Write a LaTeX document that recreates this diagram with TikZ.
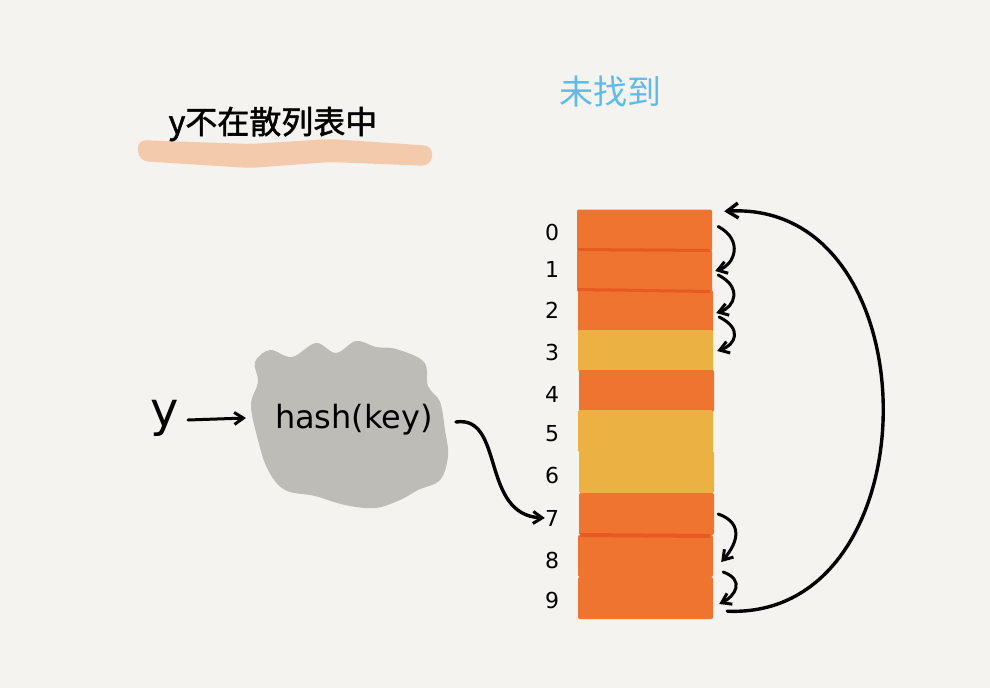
\documentclass[tikz,border=0pt]{standalone}
\usepackage{fontspec}
\newfontfamily\cjk{Noto Sans CJK SC}
\newfontfamily\cjkb[FakeBold=1.6]{Noto Sans CJK SC}
\newfontfamily\hand{DejaVu Sans}
\usetikzlibrary{arrows.meta,calc}
\definecolor{bg}{HTML}{F4F3EF}
\definecolor{orng}{HTML}{EE7430}
\definecolor{yllw}{HTML}{EBB142}
\definecolor{sep}{HTML}{E85A22}
\definecolor{cloudgray}{HTML}{BEBCB6}
\definecolor{peach}{HTML}{F3CBAC}
\definecolor{skyblue}{HTML}{5DBBEE}
\tikzset{
  cell/.style={minimum width=135pt, minimum height=42pt, inner sep=0pt, rounded corners=2pt},
  idx/.style={font=\hand\fontsize{22}{22}\selectfont, inner sep=0pt},
  arr/.style={line width=3pt, line cap=round, -{Straight Barb[length=9pt,width=12pt,line width=3pt]}},
  bigarr/.style={line width=3.4pt, line cap=round, -{Straight Barb[length=11pt,width=15pt,line width=3.4pt]}}
}
\begin{document}
\begin{tikzpicture}[x=1pt,y=-1pt]
\fill[bg] (0,0) rectangle (990,688);
\useasboundingbox (0,0) rectangle (990,688);
% highlighter
\fill[peach, rounded corners=9pt] (137,140) -- (250,144) -- (330,139) -- (433,146) -- (431,166) -- (330,162) -- (250,168) -- (139,161) -- cycle;
\node[font=\cjkb\fontsize{32}{32}\selectfont, inner sep=0pt] (title) at (273,124) {y不在散列表中};
\node[font=\cjk\fontsize{34}{34}\selectfont, text=skyblue, inner sep=0pt] (found) at (610,92) {未找到};
% cloud
\fill[cloudgray] plot[smooth cycle, tension=0.6] coordinates {
 (255,362) (270,350) (292,357) (316,343) (336,353) (356,341) (376,347) (396,349) (424,362) (428,386) (440,402) (445,430) (448,456) (440,480) (418,490) (400,500) (375,508) (345,505) (315,496) (285,490) (268,470) (258,440) (251,405) (258,382)};
\node[font=\hand\fontsize{32}{32}\selectfont, inner sep=0pt] (hash) at (354,420) {hash(key)};
\node[font=\hand\fontsize{48}{48}\selectfont, inner sep=0pt] (y) at (165,418) {y};
\coordinate (yend) at (246,418);
\draw[arr] (188,420) -- (yend);
% cells
\node[cell, fill=orng] (r0) at (644.5,230.5) {};
\node[cell, fill=orng] (r1) at (644.5,271) {};
\node[cell, fill=orng] (r2) at (645.5,311) {};
\node[cell, fill=yllw] (r3) at (645.5,351) {};
\node[cell, fill=orng] (r4) at (646.5,391) {};
\node[cell, fill=yllw] (r5) at (645.5,431) {};
\node[cell, fill=yllw] (r6) at (646.5,472) {};
\node[cell, fill=orng] (r7) at (646.5,514) {};
\node[cell, fill=orng] (r8) at (645.5,556) {};
\node[cell, fill=orng] (r9) at (645.5,598) {};
% separators
\fill[sep] (578,248) -- (710,249) -- (710,252) -- (578,251) -- cycle;
\fill[sep] (578,288) -- (710,290) -- (710,293) -- (578,291) -- cycle;
\fill[sep] (580,533) -- (710,534) -- (710,538) -- (580,537) -- cycle;
% indices
\foreach \i/\yy in {0/232,1/269,2/310,3/352,4/394,5/434,6/475,7/518,8/560,9/600}{
  \node[idx] (l\i) at (552,\yy) {\i};
}
% small arrows
\draw[arr] ($(r0.east)+(6,-4)$) .. controls ($(r0.east)+(32,10)$) and ($(r1.east)+(22,-6)$) .. ($(r1.east)+(3,0)$);
\draw[arr] ($(r1.east)+(6,4)$) .. controls ($(r1.east)+(30,16)$) and ($(r2.east)+(22,-4)$) .. ($(r2.east)+(3,2)$);
\draw[arr] ($(r2.east)+(6,6)$) .. controls ($(r2.east)+(30,18)$) and ($(r3.east)+(22,-6)$) .. ($(r3.east)+(4,0)$);
\draw[arr] ($(r7.east)+(4,0)$) .. controls ($(r7.east)+(32,10)$) and ($(r8.east)+(22,-10)$) .. ($(r8.east)+(8,6)$);
\draw[arr] ($(r8.east)+(10,16)$) .. controls ($(r8.east)+(32,24)$) and ($(r9.east)+(22,-2)$) .. ($(r9.east)+(6,6)$);
% big return arc
\draw[bigarr] ($(r9.south east)+(14,-8)$) .. controls (935,620) and (935,200) .. ($(r0.north east)+(12,2)$);
% hash to 7
\draw[arr, line width=3.4pt] (456,422) .. controls (505,415) and (480,515) .. (l7.west);
\end{tikzpicture}
\end{document}
